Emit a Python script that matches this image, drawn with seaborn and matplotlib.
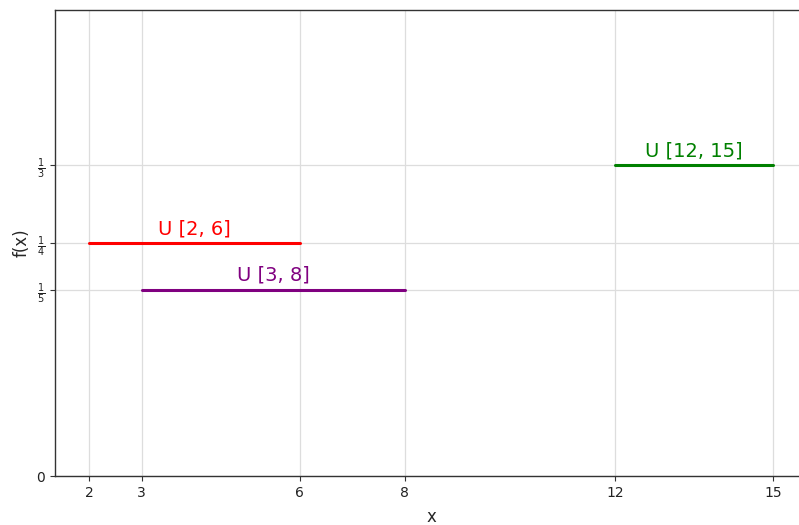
import numpy as np
import pandas as pd
import matplotlib
matplotlib.use("Agg")
import matplotlib.pyplot as plt
import seaborn as sns

# Uniform distributions U[a, b] and their constant densities 1/(b-a)
labels = ["U [2, 6]", "U [3, 8]", "U [12, 15]"]
lows = [2, 3, 12]
highs = [6, 8, 15]
colors = ["red", "purple", "green"]
densities = [1 / (b - a) for a, b in zip(lows, highs)]

xticks = [2, 3, 6, 8, 12, 15]
yticks = [0, 1 / 5, 1 / 4, 1 / 3]
yticklabels = ["0", r"$\frac{1}{5}$", r"$\frac{1}{4}$", r"$\frac{1}{3}$"]

rows = []
for lab, a, b, d in zip(labels, lows, highs, densities):
    rows.append({"x": a, "f": d, "dist": lab})
    rows.append({"x": b, "f": d, "dist": lab})
df = pd.DataFrame(rows)

sns.set_style("ticks")
fig = plt.figure(figsize=(7.99, 5.25), dpi=100)
ax = fig.add_axes([0.0688, 0.0933, 0.9412, 0.8876])

sns.lineplot(data=df, x="x", y="f", hue="dist", palette=dict(zip(labels, colors)),
             linewidth=2.2, legend=False, ax=ax, estimator=None, sort=False)

for lab, a, b, d, c in zip(labels, lows, highs, densities, colors):
    ax.text((a + b) / 2, d + 0.005, lab, color=c, ha="center", va="bottom", fontsize=14)

ax.set_xlim(1.35, 15.65)
ax.set_ylim(0, 0.5)
ax.set_xticks(xticks)
ax.set_yticks(yticks)
ax.set_yticklabels(yticklabels)
ax.tick_params(labelsize=10, colors="#333333", labelcolor="#222222")
ax.grid(True, color="#dddddd", linewidth=0.9)
ax.set_axisbelow(True)
for s in ax.spines.values():
    s.set_color("#333333")
    s.set_linewidth(1.0)
ax.spines["right"].set_visible(False)
ax.set_xlabel("x", fontsize=12, labelpad=6)
ax.set_ylabel("f(x)", fontsize=12, labelpad=4)

fig.savefig("out.png", dpi=100)
